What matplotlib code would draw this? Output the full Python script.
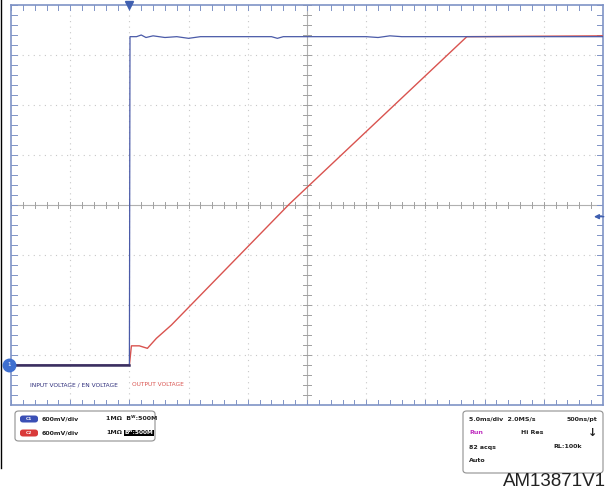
import matplotlib
matplotlib.use("Agg")
import matplotlib.pyplot as plt
from matplotlib.patches import FancyBboxPatch
import numpy as np

# ---- data (time in ms relative to trigger, voltage in V) ----
time_div_ms = 5.0
volt_div_v = 0.6
t_min, t_max = -10.0, 40.0
v_min, v_max = -0.48, 4.32

in_t = [-10.0, 0.0, 0.05, 0.6, 1.0, 1.4, 2.0, 3.0, 4.0, 5.0, 6.0, 7.0, 10.0, 12.0, 12.5, 13.0, 16.0, 20.0, 21.0, 22.0, 23.0, 40.0]
in_v = [0.0, 0.0, 3.94, 3.94, 3.96, 3.93, 3.95, 3.93, 3.94, 3.92, 3.94, 3.94, 3.94, 3.94, 3.92, 3.94, 3.94, 3.94, 3.93, 3.95, 3.94, 3.94]

out_t = [-10.0, 0.0, 0.17, 0.84, 1.52, 2.28, 3.55, 13.5, 28.5, 40.0]
out_v = [0.0, 0.0, 0.23, 0.23, 0.20, 0.32, 0.48, 1.93, 3.94, 3.95]

trig_level_v = 1.78

W, H = 607, 491
fig = plt.figure(figsize=(W / 100, H / 100), dpi=100)
fig.patch.set_facecolor("white")

L, R, T, B = 11, 603, 5, 405
ax = fig.add_axes([L / W, 1 - B / H, (R - L) / W, (B - T) / H])
ax.set_xlim(t_min, t_max)
ax.set_ylim(v_min, v_max)
ax.set_facecolor("white")

frame_col = "#7f93c6"
for s in ax.spines.values():
    s.set_color(frame_col)
    s.set_linewidth(1.2)

ax.set_xticks([])
ax.set_yticks([])

# dotted grid
xs_major = np.arange(t_min, t_max + 0.01, time_div_ms)
ys_major = v_min + np.arange(0, 9) * volt_div_v
xc = (t_min + t_max) / 2
yc = (v_min + v_max) / 2
for x in xs_major[1:-1]:
    if abs(x - xc) > 1e-6:
        ax.plot([x, x], [v_min, v_max], ls=(0, (1, 4)), color="#c8c8c8", lw=0.8, zorder=1)
for y in ys_major[1:-1]:
    if abs(y - yc) > 1e-6:
        ax.plot([t_min, t_max], [y, y], ls=(0, (1, 4)), color="#c8c8c8", lw=0.8, zorder=1)

# center crosshair
ax.plot([xc, xc], [v_min, v_max], color="#b0b0b0", lw=0.8, zorder=1)
ax.plot([t_min, t_max], [yc, yc], color="#b0b0b0", lw=0.8, zorder=1)
# minor ticks on crosshair and edges
xs_minor = np.arange(t_min, t_max + 0.01, time_div_ms / 5)
ys_minor = np.arange(v_min, v_max + 0.001, volt_div_v / 5)
dy = (v_max - v_min) * 0.008
dx = (t_max - t_min) * 0.006
for x in xs_minor:
    ax.plot([x, x], [yc - dy, yc + dy], color="#a0a0a0", lw=0.7, zorder=1)
    ax.plot([x, x], [v_min, v_min + 1.6 * dy], color=frame_col, lw=0.7, zorder=1)
    ax.plot([x, x], [v_max, v_max - 1.6 * dy], color=frame_col, lw=0.7, zorder=1)
for y in ys_minor:
    ax.plot([xc - dx, xc + dx], [y, y], color="#a0a0a0", lw=0.7, zorder=1)
    ax.plot([t_min, t_min + 1.6 * dx], [y, y], color=frame_col, lw=0.7, zorder=1)
    ax.plot([t_max, t_max - 1.6 * dx], [y, y], color=frame_col, lw=0.7, zorder=1)

# traces
ax.plot(out_t, out_v, color="#d9534f", lw=1.0, zorder=3)
ax.plot(in_t, in_v, color="#4a5aa8", lw=0.9, zorder=4)
ax.plot([t_min, 0], [0, 0], color="#3a3060", lw=1.8, zorder=5)

# trigger position marker (top), ground marker (left), trigger level (right)
ax.plot([0], [v_max], marker="v", color="#3f5fb0", ms=6, clip_on=False, zorder=6)
ax.plot([t_min - 0.2], [0], marker="o", color="#3f6fd0", ms=9, clip_on=False, zorder=6)
ax.text(t_min - 0.2, 0, "1", color="white", fontsize=4, ha="center", va="center", zorder=7, clip_on=False)
ax.annotate("", xy=(t_max - 1.0, trig_level_v), xytext=(t_max + 0.3, trig_level_v),
            arrowprops=dict(arrowstyle="-|>", color="#3f5fb0", lw=1.0, mutation_scale=7),
            annotation_clip=False, zorder=6)

# trace labels
fig.text(30 / W, 1 - 385 / H, "INPUT VOLTAGE / EN VOLTAGE", color="#2c2c7a", fontsize=4.2,
         va="center", ha="left")
fig.text(132 / W, 1 - 385 / H, "OUTPUT VOLTAGE", color="#d9534f", fontsize=4.2, va="center", ha="left")

# info panels
def fbox(x0, y0, x1, y1):
    p = FancyBboxPatch((x0 / W, 1 - y1 / H), (x1 - x0) / W, (y1 - y0) / H,
                       boxstyle="round,pad=0,rounding_size=0.006", transform=fig.transFigure,
                       fc="white", ec="#909090", lw=0.8)
    fig.add_artist(p)

def ftext(x, y, s, **kw):
    kw.setdefault("fontsize", 4.5)
    kw.setdefault("color", "#222222")
    kw.setdefault("fontweight", "bold")
    fig.text(x / W, 1 - y / H, s, va="center", **kw)

def pill(x, y, fc, label):
    p = FancyBboxPatch(((x) / W, 1 - (y + 3.5) / H), 18 / W, 7 / H,
                       boxstyle="round,pad=0,rounding_size=0.005", transform=fig.transFigure,
                       fc=fc, ec="none")
    fig.add_artist(p)
    ftext(x + 9, y, label, color="white", fontsize=3.2, ha="center")

fbox(15, 411, 155, 441)
pill(20, 419, "#3a4fb5", "C1")
ftext(42, 419, "600mV/div")
ftext(106, 419, "1M\u03a9  B\u1d42:500M")
pill(20, 433, "#d93a3a", "C2")
ftext(42, 433, "600mV/div")
ftext(106, 433, "1M\u03a9")
ftext(153, 433, "B\u1d42:500M", color="white", ha="right", fontsize=4.2,
      bbox=dict(fc="black", ec="none", pad=0.5))

fbox(463, 411, 603, 473)
ftext(469, 419, "5.0ms/div  2.0MS/s")
ftext(597, 419, "500ns/pt", ha="right")
ftext(469, 433, "Run", color="#c030c0")
ftext(521, 433, "Hi Res")
ftext(469, 447, "82 acqs")
ftext(582, 447, "RL:100k", ha="right")
ftext(469, 461, "Auto")
fig.text(593 / W, 1 - 433 / H, "\u2193", fontsize=8, color="#222222", ha="center", va="center",
         fontweight="bold")

# left border line
fig.add_artist(plt.Line2D([0.6 / W, 0.6 / W], [1 - 468 / H, 1], transform=fig.transFigure,
                          color="black", lw=1.0))

fig.text(606 / W, 1 - 481 / H, "AM13871V1", fontsize=13.5, family="Liberation Sans",
         ha="right", va="center", color="#222222")

fig.savefig("out.png", dpi=100)
